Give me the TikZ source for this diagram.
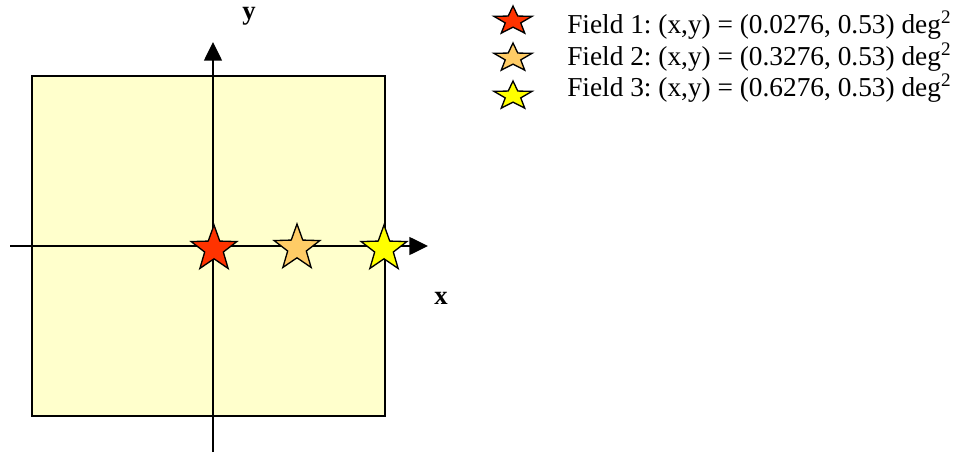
\documentclass[tikz,border=0pt]{standalone}
\usepackage{fontspec}
\setmainfont{Liberation Serif}
\usetikzlibrary{arrows.meta,positioning,shapes.geometric}
\definecolor{Field}{HTML}{FFFFCC}
\definecolor{Ink}{HTML}{000000}
\definecolor{StarOne}{HTML}{FF3300}
\definecolor{StarTwo}{HTML}{FFCC66}
\definecolor{StarThree}{HTML}{FFFF00}
\tikzset{
  fieldbox/.style={draw=Ink,fill=Field,line width=1pt},
  axis/.style={-{Triangle[length=14pt,width=13.5pt]},draw=Ink,line width=1.1pt},
  fieldstar/.style={star,star points=5,star point ratio=2.45,draw=Ink,line width=1pt,inner sep=0pt,minimum size=36pt},
  keystar/.style={fieldstar,minimum size=22.5pt,xscale=1.33,transform shape},
  axislabel/.style={font=\fontsize{20pt}{24pt}\selectfont\bfseries,text=Ink,anchor=base,inner sep=0pt},
  keytext/.style={font=\fontsize{20.5pt}{24pt}\selectfont\frenchspacing,text=Ink,anchor=base west,inner sep=0pt}
}
\begin{document}
\begin{tikzpicture}[x=0.75pt,y=-0.75pt]
  \useasboundingbox (0,0) rectangle (958,453);
  % field of view
  \draw[fieldbox] (32,76) rectangle (385,416);
  % axes
  \coordinate (xstart) at (10,246);
  \coordinate (xend) at (428,246);
  \coordinate (ystart) at (213,452);
  \coordinate (yend) at (213,42);
  \draw[axis] (xstart) -- (xend);
  \draw[axis] (ystart) -- (yend);
  \node[axislabel] (ylab) at (249,20) {y};
  \node[axislabel] (xlab) at (441,304) {x};
  % pointings
  \node[fieldstar,fill=StarOne] (field1) at (214,249) {};
  \node[fieldstar,fill=StarTwo] (field2) at (297,248) {};
  \node[fieldstar,fill=StarThree] (field3) at (384,249) {};
  % legend
  \node[keystar,fill=StarOne] (key1) at (513,21) {};
  \node[keystar,fill=StarTwo] (key2) at (513,58) {};
  \node[keystar,fill=StarThree] (key3) at (513,96) {};
  \node[keytext] (text1) at (567,34) {Field 1: (x,y) = (0.0276, 0.53) deg\textsuperscript{2}};
  \node[keytext] (text2) at (567,65.5) {Field 2: (x,y) = (0.3276, 0.53) deg\textsuperscript{2}};
  \node[keytext] (text3) at (567,97) {Field 3: (x,y) = (0.6276, 0.53) deg\textsuperscript{2}};
\end{tikzpicture}
\end{document}
